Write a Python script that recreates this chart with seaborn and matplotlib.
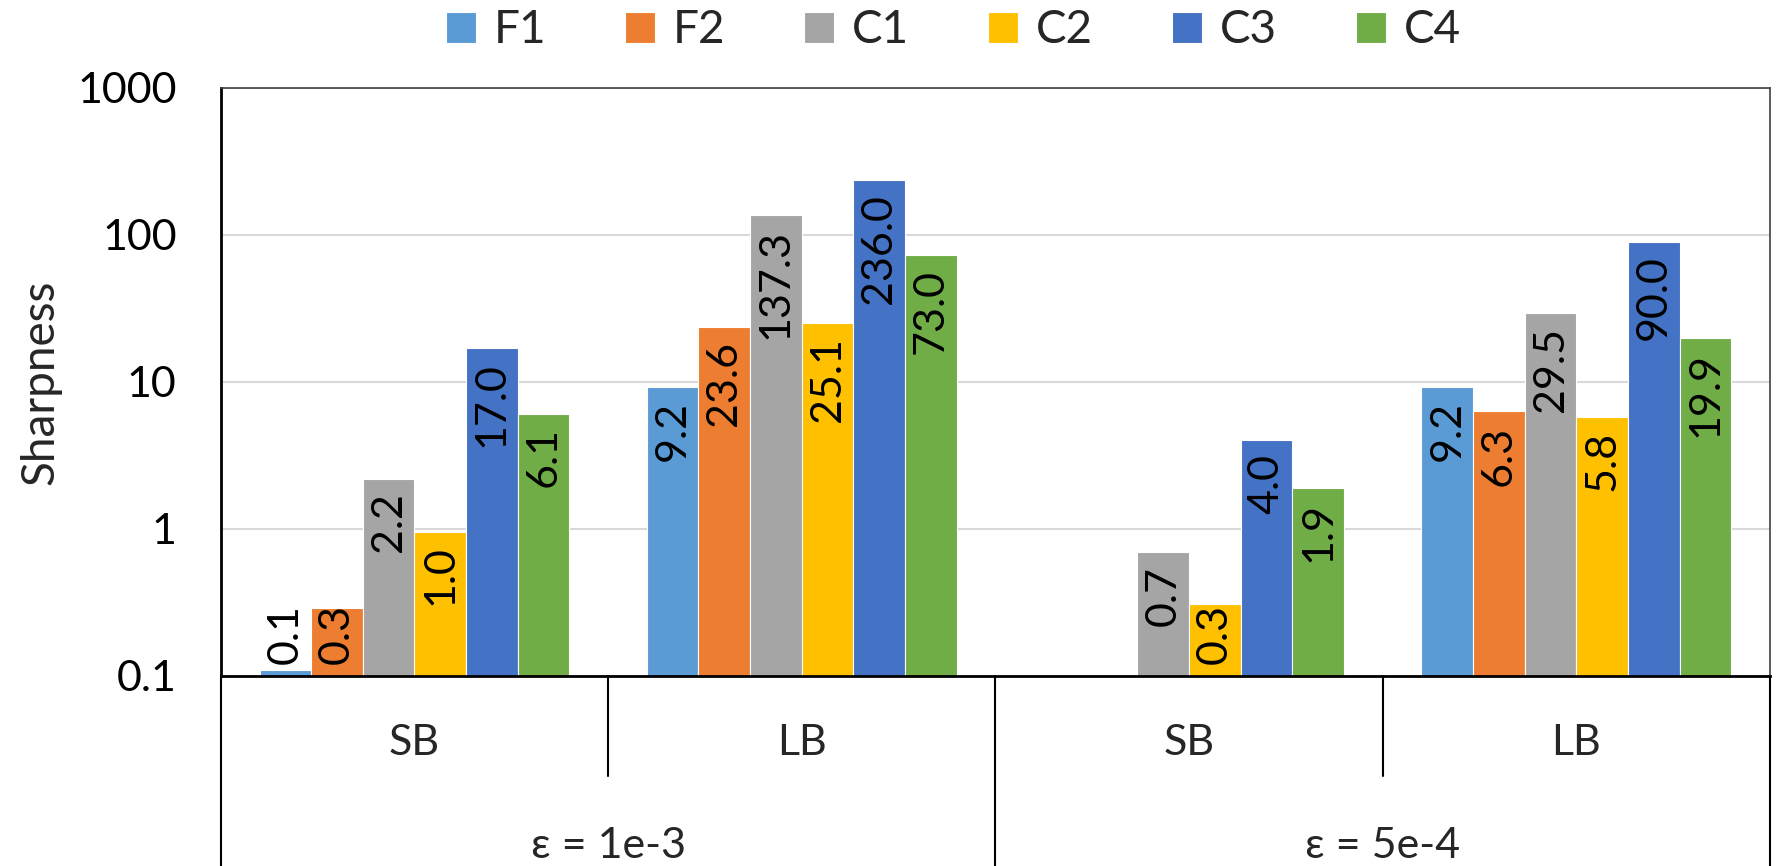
import matplotlib.pyplot as plt
import pandas as pd
import seaborn as sns
from matplotlib.ticker import NullLocator

# series and colours (Excel office palette)
series = ['F1', 'F2', 'C1', 'C2', 'C3', 'C4']
colors = ['#5B9BD5', '#ED7D31', '#A5A5A5', '#FFC000', '#4472C4', '#70AD47']

# x categories: batch size inside epsilon groups
batch_labels = ['SB', 'LB', 'SB', 'LB']
eps_labels = ['ε = 1e-3', 'ε = 5e-4']
positions = ['e1_SB', 'e1_LB', 'e2_SB', 'e2_LB']

# sharpness values per series (one per category)
f1 = [0.11, 9.2, 0.095, 9.2]
f2 = [0.29, 23.6, 0.095, 6.3]
c1 = [2.2, 137.3, 0.7, 29.5]
c2 = [0.96, 25.1, 0.31, 5.8]
c3 = [17.0, 236.0, 4.0, 90.0]
c4 = [6.1, 73.0, 1.9, 19.9]
values = [f1, f2, c1, c2, c3, c4]

ytick_vals = [0.1, 1, 10, 100, 1000]
ytick_labels = ['0.1', '1', '10', '100', '1000']

rows = []
for name, vals in zip(series, values):
    for pos, v in zip(positions, vals):
        rows.append({'pos': pos, 'series': name, 'value': v})
df = pd.DataFrame(rows)

sns.set_style('white')
plt.rcParams['font.family'] = ['Lato', 'DejaVu Sans']
FS = 31

fig, ax = plt.subplots(figsize=(17.82, 8.66), dpi=100)
fig.subplots_adjust(left=0.1239, right=0.9933, top=0.8984, bottom=0.2194)

sns.barplot(data=df, x='pos', y='value', hue='series', order=positions,
            hue_order=series, palette=colors, saturation=1, width=0.8,
            edgecolor='white', linewidth=0.8, errorbar=None, ax=ax)

ax.set_yscale('log')
ax.set_ylim(0.1, 1000)
ax.set_xlim(-0.5, 3.5)
ax.set_yticks(ytick_vals)
ax.set_yticklabels(ytick_labels)
ax.yaxis.set_minor_locator(NullLocator())
ax.tick_params(axis='y', length=10.8, width=1.5, direction='out', pad=21,
               labelsize=FS, colors='black')
ax.set_xticks([])
ax.set_xlabel('')
ax.set_ylabel('Sharpness', fontsize=33)
ax.yaxis.set_label_coords(-0.1025, 0.5)

ax.yaxis.grid(True, color='#d9d9d9', linewidth=1.5)
ax.set_axisbelow(True)
for side in ['left', 'bottom']:
    ax.spines[side].set_color('black')
    ax.spines[side].set_linewidth(2)
for side in ['top', 'right']:
    ax.spines[side].set_color('#404040')
    ax.spines[side].set_linewidth(1.2)

# legend on top
handles, labels = ax.get_legend_handles_labels()
ax.get_legend().remove()
fig.legend(handles, labels, ncol=6, loc='center', bbox_to_anchor=(0.535, 0.965),
           frameon=False, fontsize=33, handlelength=0.655, handleheight=0.655,
           handletextpad=0.39, columnspacing=1.72)

# bar value labels, rotated, inside the bar end
texts = []
for container, vals in zip(ax.containers, values):
    for bar, v in zip(container, vals):
        if v < 0.1:
            continue
        xc = bar.get_x() + bar.get_width() / 2
        t = ax.annotate(f'{v:.1f}', (xc, v), xytext=(0, -10),
                        textcoords='offset points', rotation=90,
                        ha='center', va='top', fontsize=FS, color='black')
        texts.append(t)

fig.canvas.draw()
renderer = fig.canvas.get_renderer()
base = ax.transData.transform((0, 0.1))[1]
min_gap = 12
for t in texts:
    bb = t.get_window_extent(renderer)
    if bb.y0 < base + min_gap:
        dx, dy = t.xyann
        t.xyann = (dx, dy + (base + min_gap - bb.y0) * 72 / fig.dpi)

# two level category axis
xt = ax.get_xaxis_transform()
for i, lab in enumerate(batch_labels):
    ax.text(i, -0.114, lab, transform=xt, ha='center', va='center', fontsize=FS)
for i, lab in enumerate(eps_labels):
    ax.text(2 * i + 0.5, -0.289, lab, transform=xt, ha='center', va='center',
            fontsize=FS)
for x in [-0.5, 0.5, 1.5, 2.5, 3.5]:
    y_end = -0.323 if x in (-0.5, 1.5, 3.5) else -0.170
    ax.plot([x, x], [0, y_end], transform=xt, color='black', lw=1.5,
            clip_on=False)

fig.savefig('out.png', dpi=100)
